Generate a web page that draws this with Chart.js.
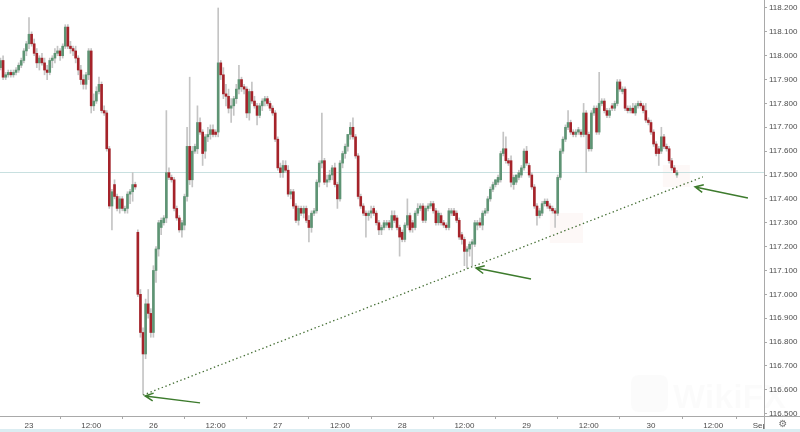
<!DOCTYPE html>
<html>
<head>
<meta charset="utf-8">
<script src="https://cdn.jsdelivr.net/npm/chart.js@4.4.0/dist/chart.umd.min.js"></script>
<style>
  html, body { margin: 0; padding: 0; background: #fff; }
  canvas { display: block; }
</style>
</head>
<body>
<canvas id="chart" width="800" height="432"></canvas>
<script>
// 30 minute candles, Aug 22 18:30 -> Aug 30 05:30, weekend gap squeezed out (slot index = x value)
const opens = [
  117.95,117.98,117.91,117.92,117.93,117.92,117.93,117.94,117.96,117.98,118.02,118.05,118.09,
  118.05,118.01,117.97,117.99,117.97,117.94,117.93,117.98,117.99,118.01,118.02,118.00,118.04,
  118.12,118.04,118.03,118.02,117.99,117.94,117.90,117.88,117.92,118.02,117.79,117.81,117.85,
  117.88,117.77,117.76,117.61,117.37,117.46,117.41,117.36,117.40,117.35,117.36,117.42,117.43,
  117.46,
  117.26,117.00,116.84,116.75,116.96,116.92,116.84,117.10,117.19,117.28,117.30,117.32,117.51,
  117.49,117.48,117.36,117.32,117.27,117.29,117.41,117.62,117.48,117.60,117.61,117.72,117.68,
  117.60,117.66,117.67,117.69,117.68,117.68,117.97,117.92,117.84,117.83,117.78,117.79,117.82,
  117.86,117.90,117.87,117.86,117.76,117.85,117.81,117.79,117.75,117.79,117.81,117.82,117.80,
  117.78,117.76,117.65,117.53,117.51,117.54,117.52,117.42,117.43,117.37,117.31,117.36,117.34,
  117.36,117.31,117.28,117.34,117.35,117.47,117.55,117.56,117.47,117.48,117.50,117.53,117.46,
  117.40,117.55,117.59,117.62,117.67,
  117.70,117.66,117.58,117.41,117.37,117.34,117.33,117.34,117.36,117.34,117.30,117.27,117.28,
  117.29,117.30,117.28,117.33,117.32,117.28,117.26,117.23,117.29,117.33,117.30,117.28,117.34,
  117.36,117.37,117.31,117.36,117.37,117.38,117.35,117.30,117.33,117.30,117.29,117.28,117.34,
  117.35,117.34,117.31,117.25,117.23,117.18,117.19,117.21,117.21,117.29,117.30,117.29,117.34,
  117.35,117.40,117.44,117.46,117.47,117.48,117.59,117.61,117.56,117.56,117.46,117.47,117.49,
  117.50,117.53,117.60,117.54,117.50,117.45,117.37,117.33,117.34,117.38,117.39,117.37,117.36,
  117.35,117.34,117.49,117.60,117.65,117.70,117.72,117.68,117.67,117.68,117.68,117.67,117.76,
  117.67,117.61,117.76,117.78,117.68,117.80,117.81,117.77,117.75,117.79,117.78,117.80,117.89,
  117.85,117.86,117.78,117.77,117.78,117.76,117.79,117.80,117.79,117.77,117.73,117.72,117.68,
  117.63,117.61,117.60,117.66,117.62,117.61,117.56,117.53,117.50
];
const highs = [
  117.99,118.00,117.93,117.94,117.94,117.94,117.95,117.97,117.99,118.03,118.06,118.16,118.10,
  118.07,118.03,118.00,118.01,117.99,117.96,117.99,118.00,118.03,118.04,118.03,118.05,118.13,
  118.13,118.06,118.04,118.04,118.00,117.96,117.92,117.93,118.03,118.03,117.84,117.87,117.91,
  117.89,117.79,117.77,117.62,117.44,117.48,117.42,117.41,117.41,117.37,117.43,117.44,117.51,
  117.47,
  117.27,117.02,116.86,116.98,117.02,116.94,117.12,117.20,117.31,117.32,117.33,117.77,117.53,
  117.50,117.49,117.37,117.33,117.31,117.42,117.70,117.91,117.62,117.63,117.79,117.74,117.69,
  117.67,117.70,117.71,117.71,117.69,118.20,117.98,117.95,117.88,117.86,117.82,117.83,117.88,
  117.96,117.91,117.88,117.87,117.86,117.89,117.83,117.80,117.80,117.82,117.83,117.83,117.81,
  117.79,117.77,117.66,117.55,117.56,117.56,117.54,117.44,117.44,117.38,117.37,117.37,117.37,
  117.37,117.33,117.35,117.36,117.48,117.56,117.76,117.57,117.50,117.52,117.54,117.55,117.47,
  117.56,117.60,117.63,117.67,117.72,
  117.74,117.67,117.59,117.42,117.38,117.35,117.35,117.37,117.37,117.35,117.31,117.29,117.31,
  117.31,117.31,117.35,117.35,117.33,117.29,117.27,117.30,117.40,117.34,117.31,117.35,117.38,
  117.38,117.38,117.37,117.38,117.39,117.39,117.36,117.35,117.34,117.31,117.30,117.36,117.36,
  117.36,117.35,117.32,117.26,117.24,117.20,117.22,117.23,117.31,117.31,117.32,117.35,117.36,
  117.41,117.45,117.47,117.48,117.50,117.60,117.68,117.66,117.57,117.58,117.50,117.50,117.52,
  117.54,117.61,117.62,117.55,117.51,117.46,117.38,117.36,117.39,117.40,117.40,117.38,117.37,
  117.36,117.50,117.61,117.66,117.71,117.77,117.73,117.69,117.69,117.70,117.69,117.80,117.77,
  117.68,117.77,117.79,117.79,117.93,117.82,117.82,117.78,117.78,117.80,117.81,117.90,117.90,
  117.87,117.87,117.79,117.79,117.80,117.80,117.81,117.81,117.80,117.80,117.74,117.73,117.69,
  117.64,117.62,117.70,117.67,117.63,117.62,117.57,117.54,117.52
];
const lows = [
  117.94,117.90,117.90,117.91,117.91,117.91,117.92,117.93,117.95,117.97,118.00,118.03,118.04,
  118.00,117.95,117.94,117.96,117.92,117.90,117.92,117.95,117.97,118.00,117.98,117.99,118.03,
  118.03,118.01,118.00,117.97,117.92,117.88,117.86,117.86,117.90,117.76,117.77,117.80,117.84,
  117.76,117.75,117.60,117.36,117.27,117.40,117.35,117.34,117.35,117.34,117.34,117.38,117.39,
  117.44,
  116.99,116.82,116.58,116.73,116.90,116.82,116.82,117.05,117.16,117.25,117.29,117.30,117.48,
  117.47,117.35,117.31,117.26,117.24,117.27,117.39,117.46,117.45,117.59,117.59,117.67,117.54,
  117.57,117.64,117.65,117.66,117.66,117.66,117.90,117.82,117.79,117.76,117.72,117.75,117.80,
  117.84,117.85,117.84,117.74,117.73,117.80,117.78,117.71,117.74,117.77,117.79,117.79,117.77,
  117.75,117.64,117.52,117.49,117.49,117.51,117.41,117.40,117.36,117.30,117.29,117.33,117.32,
  117.30,117.22,117.26,117.33,117.34,117.45,117.53,117.46,117.45,117.47,117.48,117.45,117.36,
  117.39,117.53,117.57,117.60,117.65,
  117.65,117.57,117.40,117.36,117.33,117.24,117.31,117.32,117.33,117.29,117.25,117.25,117.27,
  117.28,117.27,117.27,117.30,117.27,117.16,117.22,117.22,117.28,117.26,117.26,117.27,117.33,
  117.35,117.30,117.30,117.35,117.36,117.34,117.29,117.29,117.29,117.28,117.27,117.27,117.33,
  117.33,117.30,117.23,117.21,117.12,117.11,117.16,117.12,117.20,117.27,117.28,117.27,117.33,
  117.34,117.39,117.43,117.45,117.46,117.47,117.58,117.55,117.54,117.45,117.44,117.46,117.48,
  117.49,117.52,117.54,117.49,117.44,117.36,117.29,117.32,117.33,117.37,117.36,117.35,117.34,
  117.28,117.33,117.48,117.59,117.64,117.69,117.67,117.66,117.66,117.67,117.66,117.66,117.51,
  117.60,117.60,117.75,117.67,117.67,117.79,117.76,117.74,117.74,117.77,117.77,117.79,117.85,
  117.84,117.77,117.76,117.76,117.76,117.75,117.78,117.78,117.76,117.72,117.71,117.67,117.62,
  117.58,117.54,117.59,117.61,117.60,117.55,117.52,117.51,117.49
];
const closes = [
  117.98,117.91,117.92,117.93,117.92,117.93,117.94,117.96,117.98,118.02,118.05,118.09,118.05,
  118.01,117.97,117.99,117.97,117.94,117.93,117.98,117.99,118.01,118.02,118.00,118.04,118.12,
  118.04,118.03,118.02,117.99,117.94,117.90,117.88,117.92,118.02,117.79,117.81,117.85,117.88,
  117.77,117.76,117.61,117.37,117.43,117.41,117.36,117.40,117.36,117.36,117.42,117.43,117.46,
  117.45,
  117.00,116.84,116.75,116.96,116.92,116.84,117.10,117.19,117.30,117.31,117.32,117.51,117.49,
  117.48,117.36,117.32,117.27,117.30,117.41,117.62,117.48,117.60,117.62,117.72,117.68,117.59,
  117.66,117.67,117.69,117.67,117.67,117.97,117.92,117.84,117.83,117.78,117.79,117.82,117.86,
  117.90,117.87,117.86,117.76,117.85,117.81,117.79,117.75,117.79,117.81,117.82,117.80,117.78,
  117.76,117.65,117.53,117.51,117.54,117.52,117.42,117.43,117.37,117.31,117.36,117.34,117.36,
  117.31,117.28,117.34,117.35,117.47,117.55,117.56,117.47,117.48,117.50,117.53,117.46,117.40,
  117.55,117.59,117.62,117.67,117.70,
  117.66,117.58,117.41,117.37,117.34,117.33,117.34,117.35,117.34,117.30,117.27,117.28,117.30,
  117.30,117.28,117.33,117.31,117.28,117.24,117.23,117.29,117.33,117.27,117.28,117.34,117.36,
  117.37,117.31,117.36,117.37,117.38,117.35,117.30,117.34,117.30,117.29,117.28,117.35,117.35,
  117.33,117.31,117.24,117.23,117.18,117.19,117.21,117.22,117.30,117.30,117.29,117.34,117.35,
  117.40,117.44,117.46,117.48,117.49,117.59,117.61,117.56,117.55,117.47,117.49,117.50,117.51,
  117.53,117.60,117.55,117.50,117.45,117.37,117.33,117.35,117.38,117.39,117.37,117.36,117.35,
  117.34,117.49,117.60,117.65,117.70,117.72,117.68,117.67,117.68,117.69,117.67,117.76,117.67,
  117.61,117.76,117.78,117.68,117.80,117.81,117.77,117.75,117.77,117.78,117.80,117.89,117.86,
  117.86,117.78,117.77,117.78,117.76,117.79,117.80,117.79,117.77,117.73,117.72,117.68,117.63,
  117.59,117.59,117.66,117.62,117.61,117.56,117.53,117.51,117.51
];

const yTicks = [116.5, 116.6, 116.7, 116.8, 116.9, 117.0, 117.1, 117.2, 117.3,
                117.4, 117.5, 117.6, 117.7, 117.8, 117.9, 118.0, 118.1, 118.2];
const xTickSlots = [11, 35, 59, 83, 107, 131, 155, 179, 203, 227, 251, 275, 293];
const xTickLabels = ['23', '12:00', '26', '12:00', '27', '12:00', '28', '12:00', '29', '12:00', '30', '12:00', 'Sep'];

// drawings on top of the chart, in slot / price units
const lastPrice = 117.513;
const trendLine = [[55, 116.578], [271, 117.492]];
const arrows = [
  [[77.0, 116.545], [55.8, 116.574]],
  [[204.7, 117.064], [183.5, 117.110]],
  [[288.4, 117.404], [268.0, 117.450]]
];
const shadeBoxes = [[255.6, 266.0, 117.542, 117.450], [212.0, 224.8, 117.341, 117.215]];

const UP = '#5e9474';
const DOWN = '#a5232a';

const slots = closes.map((c, i) => i);
const wickData = slots.map(i => ({ x: i, y: [lows[i], highs[i]] }));
const bodyData = slots.map(i => ({ x: i, y: [opens[i], closes[i]] }));
const bodyColors = slots.map(i => closes[i] >= opens[i] ? UP : DOWN);

const overlay = {
  id: 'overlay',
  beforeDatasetsDraw(chart) {
    const { ctx, chartArea } = chart;
    const x = chart.scales.x, y = chart.scales.y;
    ctx.save();
    // faint highlight boxes
    ctx.fillStyle = 'rgba(236,190,185,0.11)';
    shadeBoxes.forEach(b => {
      const x0 = x.getPixelForValue(b[0]), x1 = x.getPixelForValue(b[1]);
      const y0 = y.getPixelForValue(b[2]), y1 = y.getPixelForValue(b[3]);
      ctx.fillRect(x0, y0, x1 - x0, y1 - y0);
    });
    // last price line
    const py = Math.round(y.getPixelForValue(lastPrice)) + 0.5;
    ctx.strokeStyle = '#c8e0e0';
    ctx.lineWidth = 1;
    ctx.beginPath();
    ctx.moveTo(chartArea.left, py);
    ctx.lineTo(chartArea.right, py);
    ctx.stroke();
    // watermark
    ctx.fillStyle = 'rgba(0,0,0,0.014)';
    ctx.beginPath();
    ctx.roundRect(631, 375, 37, 37, 7);
    ctx.fill();
    ctx.font = 'bold 34px "Liberation Sans"';
    ctx.textBaseline = 'alphabetic';
    ctx.fillText('WikiFX', 673, 408);
    ctx.restore();
  },
  afterDatasetsDraw(chart) {
    const { ctx } = chart;
    const x = chart.scales.x, y = chart.scales.y;
    ctx.save();
    // dotted trend line
    ctx.strokeStyle = '#456f35';
    ctx.lineWidth = 1.3;
    ctx.setLineDash([1.4, 2.6]);
    ctx.beginPath();
    ctx.moveTo(x.getPixelForValue(trendLine[0][0]), y.getPixelForValue(trendLine[0][1]));
    ctx.lineTo(x.getPixelForValue(trendLine[1][0]), y.getPixelForValue(trendLine[1][1]));
    ctx.stroke();
    ctx.setLineDash([]);
    // arrows pointing at the touches
    ctx.strokeStyle = '#3d7b2d';
    ctx.lineWidth = 1.5;
    arrows.forEach(a => {
      const tx = x.getPixelForValue(a[0][0]), ty = y.getPixelForValue(a[0][1]);
      const hx = x.getPixelForValue(a[1][0]), hy = y.getPixelForValue(a[1][1]);
      const ang = Math.atan2(ty - hy, tx - hx);
      ctx.beginPath();
      ctx.moveTo(tx, ty);
      ctx.lineTo(hx, hy);
      ctx.moveTo(hx + 9 * Math.cos(ang - 0.45), hy + 9 * Math.sin(ang - 0.45));
      ctx.lineTo(hx, hy);
      ctx.lineTo(hx + 9 * Math.cos(ang + 0.45), hy + 9 * Math.sin(ang + 0.45));
      ctx.stroke();
    });
    ctx.restore();
  },
  afterDraw(chart) {
    const { ctx, chartArea } = chart;
    ctx.save();
    // cover the corner cell, cuts the "Sep" label like the original
    ctx.fillStyle = '#fff';
    ctx.fillRect(chartArea.right + 1, chartArea.bottom + 1, 40, 12);
    ctx.strokeStyle = '#a9a9a9';
    ctx.lineWidth = 1;
    ctx.beginPath();
    ctx.moveTo(chartArea.right + 0.5, 0);
    ctx.lineTo(chartArea.right + 0.5, 432);
    ctx.moveTo(0, chartArea.bottom + 0.5);
    ctx.lineTo(800, chartArea.bottom + 0.5);
    ctx.stroke();
    ctx.fillStyle = '#dbedf2';
    ctx.fillRect(0, 429, 800, 3);
    ctx.fillStyle = '#777';
    ctx.font = '10px "DejaVu Sans"';
    ctx.textAlign = 'center';
    ctx.textBaseline = 'middle';
    ctx.fillText('\u2699', 783, 424);
    ctx.restore();
  }
};

const tickFont = { family: '"Liberation Sans", Arial, sans-serif', size: 8 };

new Chart(document.getElementById('chart'), {
  type: 'bar',
  data: {
    datasets: [
      { label: 'wick', data: wickData, backgroundColor: '#c4c4c4', barThickness: 1, grouped: false, order: 2 },
      { label: 'body', data: bodyData, backgroundColor: bodyColors, barThickness: 2, minBarLength: 1, grouped: false, order: 1 }
    ]
  },
  options: {
    responsive: false,
    animation: false,
    devicePixelRatio: 1,
    layout: { padding: 0, autoPadding: false },
    plugins: { legend: { display: false }, tooltip: { enabled: false } },
    scales: {
      x: {
        type: 'linear', min: -0.19, max: 294.6, offset: false,
        grid: { drawOnChartArea: false, drawTicks: true, tickLength: 3, color: '#a9a9a9' },
        border: { display: false },
        afterBuildTicks: s => { s.ticks = xTickSlots.map(v => ({ value: v })); },
        afterFit: s => { s.height = 16; s.paddingLeft = 0; s.paddingRight = 0; },
        ticks: {
          autoSkip: false, maxRotation: 0, padding: 2, color: '#4d4d4d', font: tickFont,
          callback: (v, i) => xTickLabels[i]
        }
      },
      y: {
        type: 'linear', position: 'right', min: 116.490, max: 118.2335,
        grid: { drawOnChartArea: false, drawTicks: true, tickLength: 3, color: '#a9a9a9' },
        border: { display: false },
        afterBuildTicks: s => { s.ticks = yTicks.map(v => ({ value: v })); },
        afterFit: s => { s.width = 36; s.paddingTop = 0; s.paddingBottom = 0; },
        ticks: { padding: 2, color: '#4d4d4d', font: tickFont, callback: v => v.toFixed(3) }
      }
    }
  },
  plugins: [overlay]
});
</script>
</body>
</html>
